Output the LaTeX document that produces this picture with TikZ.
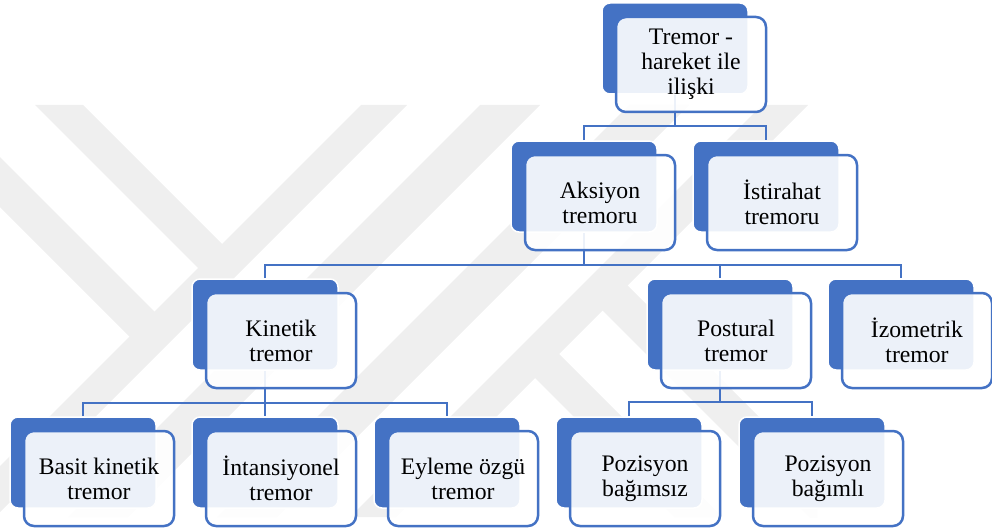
\documentclass[tikz,border=0pt]{standalone}
\usepackage{fontspec}
\setmainfont{Liberation Serif}
\definecolor{sablue}{HTML}{4472C4}
\definecolor{wmgray}{RGB}{239,239,239}
\pgfdeclarelayer{wm}
\pgfdeclarelayer{bg}
\pgfsetlayers{wm,bg,main}
\tikzset{
  backbox/.style={fill=sablue, draw=white, line width=1.5pt, rounded corners=8pt,
    minimum width=146pt, minimum height=91pt, inner sep=0pt},
  frontbox/.style={fill=white, fill opacity=0.9, text opacity=1, draw=sablue,
    line width=2.5pt, rounded corners=10pt, minimum width=150pt, minimum height=95pt,
    align=center, font=\fontsize{23.7}{25}\selectfont, text=black},
  conn/.style={draw=sablue, line width=2.4pt},
  wmband/.style={fill=wmgray, draw=none}
}
\newcommand{\tnode}[4]{%
  \node[backbox] (#1b) at (#2,#3+45.5) {};
  \node[frontbox] (#1) at (#2+16,#3+61.5) {#4};}
\begin{document}
\begin{tikzpicture}[x=1pt,y=-1pt]
\useasboundingbox (0,0) rectangle (992,532);
% watermark
\begin{pgfonlayer}{wm}
\begin{scope}
\clip (0,105) rectangle (992,517);
\fill[wmband] (361,105) -- (407,105) -- (-5,517) -- (-51,517) -- cycle;
\fill[wmband] (480,105) -- (540,105) -- (128,517) -- (68,517) -- cycle;
\fill[wmband] (629,105) -- (689,105) -- (277,517) -- (217,517) -- cycle;
\fill[wmband] (762,105) -- (808,105) -- (396,517) -- (350,517) -- cycle;
\fill[wmband] (35,105) -- (83,105) -- (233.5,255.5) -- (209.5,279.5) -- cycle;
\fill[wmband] (-60,97) -- (166,323) -- (141,348) -- (-60,147) -- cycle;
\fill[wmband] (722,517) -- (674,517) -- (523.5,366.5) -- (547.5,342.5) -- cycle;
\fill[wmband] (817,525) -- (591,299) -- (616,274) -- (817,475) -- cycle;
\end{scope}
\end{pgfonlayer}
% boxes
\tnode{top}{675}{3}{Tremor -\\hareket ile\\ilişki}
\tnode{aks}{584}{141}{Aksiyon\\tremoru}
\tnode{ist}{766}{141}{İstirahat\\tremoru}
\tnode{kin}{265}{279}{Kinetik\\tremor}
\tnode{pos}{720}{279}{Postural\\tremor}
\tnode{izo}{901}{279}{İzometrik\\tremor}
\tnode{bas}{83}{417}{Basit kinetik\\tremor}
\tnode{itn}{265}{417}{İntansiyonel\\tremor}
\tnode{eyl}{447}{417}{Eyleme özgü\\tremor}
\tnode{pbs}{629}{417}{Pozisyon\\bağımsız}
\tnode{pbl}{812}{417}{Pozisyon\\bağımlı}
% connectors
\coordinate (h1) at (0,126);
\coordinate (h2) at (0,265);
\coordinate (h3) at (0,403);
\coordinate (h4) at (0,402);
\begin{pgfonlayer}{bg}
\draw[conn] (topb.center) -- (topb.center |- h1) coordinate (j1);
\draw[conn] (aksb.north) |- (j1) -| (istb.north);
\draw[conn] (aksb.center) -- (aksb.center |- h2) coordinate (j2);
\draw[conn] (kinb.north) |- (j2) -| (izob.north);
\draw[conn] (j2) -| (posb.north);
\draw[conn] (kinb.center) -- (kinb.center |- h3) coordinate (j3);
\draw[conn] (basb.north) |- (j3) -| (eylb.north);
\draw[conn] (j3) -- (itnb.north);
\draw[conn] (posb.center) -- (posb.center |- h4) coordinate (j4);
\draw[conn] (pbsb.north) |- (j4) -| (pblb.north);
\end{pgfonlayer}
\end{tikzpicture}
\end{document}
